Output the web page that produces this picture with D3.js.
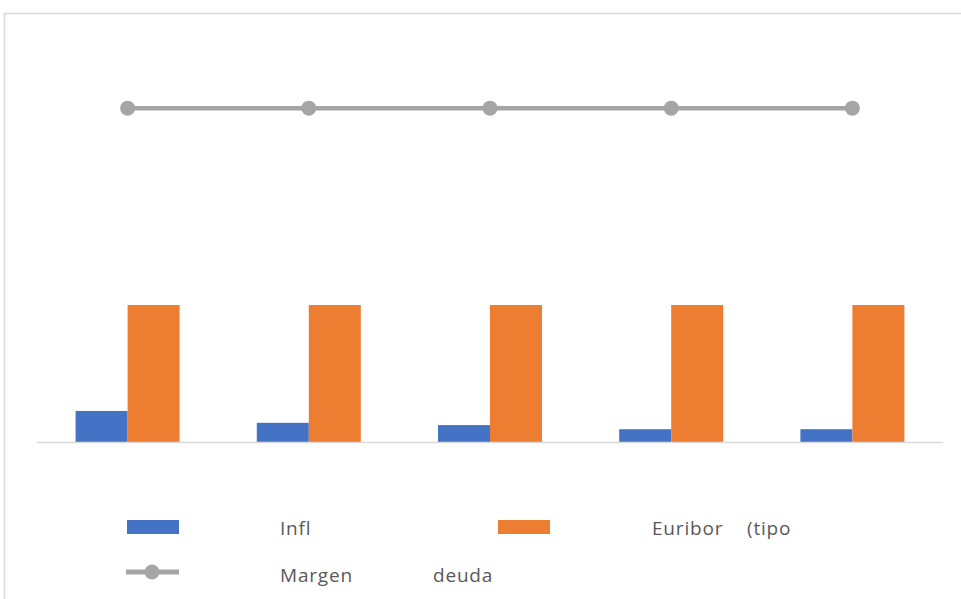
<!DOCTYPE html>
<html>
<head>
<meta charset="utf-8">
<script src="https://cdn.jsdelivr.net/npm/d3@7"></script>
<style>
  html, body { margin: 0; padding: 0; background: #fff; }
  svg { display: block; }
</style>
</head>
<body>
<svg id="chart" width="961" height="599"></svg>
<script>
// ---- data ----
const categories = ["1", "2", "3", "4", "5"];
const inflValues = [0.68, 0.42, 0.37, 0.28, 0.28];
const euriborValues = [3.0, 3.0, 3.0, 3.0, 3.0];
const margenValues = [7.31, 7.31, 7.31, 7.31, 7.31];
const seriesNames = ["Infl", "Euribor (tipo", "Margen deuda"];
const colors = ["#4472c4", "#ed7d31", "#a5a5a5"];

const svg = d3.select("#chart");

// chart border
svg.append("rect")
  .attr("x", 4.5).attr("y", 13.5).attr("width", 1100).attr("height", 700)
  .attr("fill", "#fff").attr("stroke", "#d9d9d9").attr("stroke-width", 1.5);

const plot = { left: 37, right: 943, bottom: 442 };

const x0 = d3.scaleBand().domain(categories)
  .range([plot.left, plot.right]).paddingInner(0.426).paddingOuter(0.213);
const x1 = d3.scaleBand().domain([0, 1]).range([0, x0.bandwidth()]);
const y = d3.scaleLinear().domain([0, 8]).range([plot.bottom, plot.bottom - 8 * 45.67]);

const barSeries = [inflValues, euriborValues];
barSeries.forEach((vals, si) => {
  svg.append("g").selectAll("rect").data(vals).join("rect")
    .attr("x", (d, i) => x0(categories[i]) + x1(si))
    .attr("y", d => y(d))
    .attr("width", x1.bandwidth())
    .attr("height", d => y(0) - y(d))
    .attr("fill", colors[si]);
});

// baseline
svg.append("line")
  .attr("x1", plot.left).attr("x2", plot.right)
  .attr("y1", y(0) + 0.5).attr("y2", y(0) + 0.5)
  .attr("stroke", "#d9d9d9").attr("stroke-width", 1.5);

// line series
const cx = (d, i) => x0(categories[i]) + x0.bandwidth() / 2;
svg.append("path").datum(margenValues)
  .attr("d", d3.line().x(cx).y(d => y(d)))
  .attr("fill", "none").attr("stroke", colors[2]).attr("stroke-width", 4.5);
svg.append("g").selectAll("circle").data(margenValues).join("circle")
  .attr("cx", cx).attr("cy", d => y(d)).attr("r", 7.5).attr("fill", colors[2]);

// legend
const font = "'Open Sans', 'Liberation Sans', sans-serif";
const legend = svg.append("g")
  .attr("font-family", font).attr("font-size", 19).attr("letter-spacing", 0.8)
  .attr("fill", "#595959");

legend.append("rect").attr("x", 127).attr("y", 520).attr("width", 52).attr("height", 14).attr("fill", colors[0]);
legend.append("text").attr("x", 280).attr("y", 535).text("Infl");

legend.append("rect").attr("x", 498).attr("y", 520).attr("width", 52).attr("height", 14).attr("fill", colors[1]);
const t2 = legend.append("text").attr("y", 535);
t2.append("tspan").attr("x", 652).text("Euribor");
t2.append("tspan").attr("x", 747).text("(tipo");

legend.append("line").attr("x1", 126).attr("x2", 179).attr("y1", 572).attr("y2", 572)
  .attr("stroke", colors[2]).attr("stroke-width", 5);
legend.append("circle").attr("cx", 152).attr("cy", 572).attr("r", 7.5).attr("fill", colors[2]);
const t3 = legend.append("text").attr("y", 582);
t3.append("tspan").attr("x", 280).text("Margen");
t3.append("tspan").attr("x", 433).text("deuda");
</script>
</body>
</html>
